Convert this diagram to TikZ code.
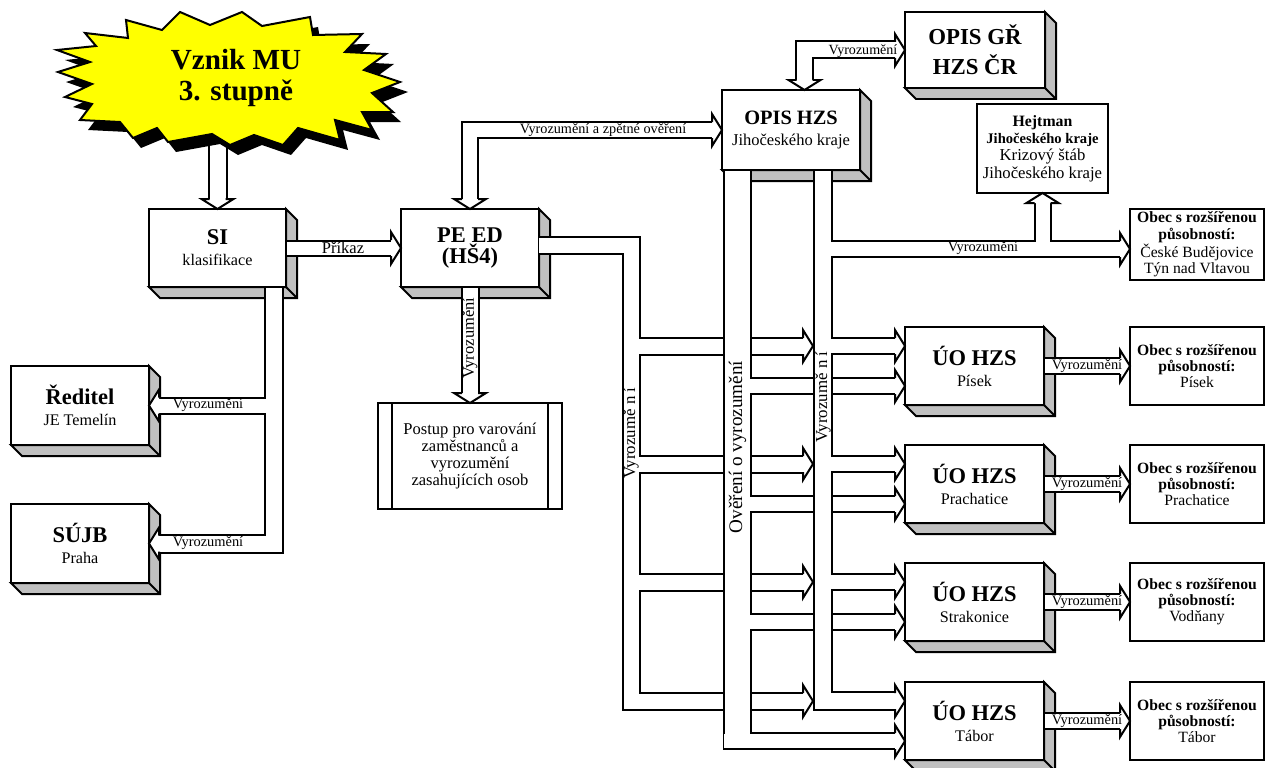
\documentclass[tikz,border=0pt]{standalone}
\usepackage{fontspec}
\setmainfont{Liberation Serif}
\usetikzlibrary{calc}

\definecolor{sidegrey}{RGB}{192,192,192}
\definecolor{burst}{RGB}{255,255,0}

\newcommand{\titel}[1]{{\fontsize{12.8}{12}\selectfont\bfseries #1}}
\newcommand{\obec}[1]{{\bfseries Obec s rozšířenou}\\{\bfseries působností:}\\#1}
% grey depth of a box
\newcommand{\extrude}[1]{%
  \filldraw[side] (#1.north east) -- ++(11,11) -- ($(#1.south east)+(11,11)$)
    -- ($(#1.south west)+(11,11)$) -- (#1.south west) -- (#1.south east) -- cycle;
  \draw[side] (#1.south east) -- ++(11,11);}
% arrow heads of the hollow arrows
\newcommand{\tipR}[1]{\filldraw[tip] (#1) ++(-10,-8) -- ++(0,-8) -- (#1) -- ++(-10,16) -- ++(0,-8);}
\newcommand{\tipL}[1]{\filldraw[tip] (#1) ++(10,-8) -- ++(0,-8) -- (#1) -- ++(10,16) -- ++(0,-8);}
\newcommand{\tipD}[1]{\filldraw[tip] (#1) ++(-8,-10) -- ++(-8,0) -- (#1) -- ++(16,-10) -- ++(-8,0);}
\newcommand{\tipU}[1]{\filldraw[tip] (#1) ++(-8,10) -- ++(-8,0) -- (#1) -- ++(16,10) -- ++(-8,0);}
\newcommand{\tube}[2]{\draw[pipe=#1] #2; \draw[core=#1] #2;}
\newcommand{\starpath}{(57,50) -- (96,46) -- (85,33) -- (128,38) -- (126,20) -- (162,30)
  -- (180,12) -- (210,25) -- (242,12) -- (262,26) -- (310,17) -- (313,35) -- (362,34)
  -- (345,52) -- (386,54) -- (364,70) -- (400,82) -- (372,93) -- (393,112) -- (362,112)
  -- (372,130) -- (335,120) -- (340,140) -- (298,128) -- (283,145) -- (254,135)
  -- (230,145) -- (212,134) -- (168,142) -- (157,128) -- (133,138) -- (120,122)
  -- (80,120) -- (92,104) -- (65,97) -- (92,84) -- (58,72) -- (90,62) -- cycle}

\begin{document}
\begin{tikzpicture}[x=0.02cm, y=-0.02cm,
    every node/.style={font=\fontsize{9.2}{12}\selectfont},
    face/.style 2 args={draw, fill=white, line width=0.04cm, inner sep=0pt,
      outer sep=0pt, align=center, minimum width=#1*0.02cm, minimum height=#2*0.02cm},
    side/.style={fill=sidegrey, draw=black, line width=0.04cm},
    pipe/.style={draw=black, line width=(#1+2)*0.02cm},
    core/.style={draw=white, line width=(#1-2)*0.02cm, shorten <=0.02cm},
    tip/.style={fill=white, draw=black, line width=0.04cm},
    tag/.style={inner sep=0pt, font=\fontsize{8.2}{9}\selectfont}]

\useasboundingbox (0,0) rectangle (1266,767);

% boxes
\node[face={137}{78}] (si) at (217.5,248) {\titel{SI}\\klasifikace};
\extrude{si}
\node[face={138}{78}] (peed) at (470,248) {\titel{PE ED}\\\titel{(HŠ4)}};
\extrude{peed}
\node[face={138}{80}, font=\fontsize{9.4}{11.5}\selectfont] (opishzs) at (791,130)
  {{\fontsize{11.6}{12}\selectfont\bfseries OPIS HZS}\\Jihočeského kraje};
\extrude{opishzs}
\node[face={140}{76}, font=\fontsize{13}{17}\selectfont\bfseries] (opisgr) at (975,50) {OPIS GŘ\\HZS ČR};
\extrude{opisgr}
\node[face={138}{79}] (reditel) at (80,405.5) {\titel{Ředitel}\\JE Temelín};
\extrude{reditel}
\node[face={138}{79}] (sujb) at (80,543.5) {\titel{SÚJB}\\Praha};
\extrude{sujb}
\node[face={131}{89}, font=\fontsize{9.5}{9.9}\selectfont] (hejtman) at (1042.5,148.5)
  {{\fontsize{9}{9.9}\selectfont\bfseries Hejtman}\\{\fontsize{8.3}{9.9}\selectfont\bfseries Jihočeského kraje}\\Krizový štáb\\Jihočeského kraje};
\node[face={134}{71}, font=\fontsize{8.9}{9.2}\selectfont] (obeccb) at (1197,244.5)
  {\obec{České Budějovice\\Týn nad Vltavou}};
\node[face={184}{106}, font=\fontsize{9.4}{9.7}\selectfont] (postup) at (470,456)
  {Postup pro varování\\zaměstnanců a\\vyrozumění\\zasahujících osob};
\draw[line width=0.04cm] ([xshift=0.28cm]postup.north west) -- ([xshift=0.28cm]postup.south west)
  ([xshift=-0.28cm]postup.north east) -- ([xshift=-0.28cm]postup.south east);

\foreach \n/\c/\town/\place in {pisek/366/Písek/Písek, prach/484/Prachatice/Prachatice,
    strak/602/Strakonice/Vodňany, tabor/721/Tábor/Tábor} {
  \node[face={139}{78}] (uo\n) at (974.5,\c) {\titel{ÚO HZS}\\\town};
  \extrude{uo\n}
  \node[face={134}{78}, font=\fontsize{8.9}{9.2}\selectfont] (ob\n) at (1197,\c) {\obec{\place}};
  \coordinate (a\n) at ($(uo\n.west)+(0,-20)$);
  \coordinate (b\n) at ($(uo\n.west)+(0,20)$);
}

\coordinate (vznik) at (219,80);
\coordinate (sibus) at (274,0);
\coordinate (pebus) at (631,0);
\coordinate (ovbus) at (737.5,0);
\coordinate (vybus) at (823,0);
\coordinate (vyedge) at (813,0);
\coordinate (cbin) at ($(obeccb.west)+(0,4.5)$);
\foreach \n in {pisek,prach,strak,tabor} {\coordinate (p\n) at (vyedge |- a\n);}

% star -> SI, SI -> PE ED
\tube{18}{(vznik -| si.north) -- ($(si.north)+(0,-10)$)}
\tipD{si.north}
\tube{15}{(si.east) -- ($(peed.west)+(-10,0)$)}
\tipR{peed.west}

% SI -> Reditel, SUJB
\draw[pipe=18] (si.south -| sibus) |- ($(sujb.east)+(10,0)$);
\draw[pipe=16] (sibus |- reditel.east) -- ($(reditel.east)+(10,0)$);
\draw[core=18] (si.south -| sibus) |- ($(sujb.east)+(10,0)$);
\draw[core=16] (sibus |- reditel.east) -- ($(reditel.east)+(10,0)$);
\tipL{reditel.east} \tipL{sujb.east}

% PE ED -> Postup
\tube{17}{(peed.south) -- ($(postup.north)+(0,-10)$)}
\tipD{postup.north}

% PE ED <-> OPIS HZS <-> OPIS GR
\draw[pipe=16] ($(peed.north)+(0,-10)$) |- ($(opishzs.west)+(-10,0)$);
\draw[core=16, shorten <=0pt] ($(peed.north)+(0,-10)$) |- ($(opishzs.west)+(-10,0)$);
\tipD{peed.north} \tipR{opishzs.west}
\draw[pipe=17] ($(opishzs.north)+(13.5,-10)$) |- ($(opisgr.west)+(-10,0)$);
\draw[core=17, shorten <=0pt] ($(opishzs.north)+(13.5,-10)$) |- ($(opisgr.west)+(-10,0)$);
\tipD{$(opishzs.north)+(13.5,0)$} \tipR{opisgr.west}

% PE ED bus
\draw[pipe=17] ($(peed.east)+(0,-3)$) -| (pebus |- ptabor) -- ($(ptabor)+(-10,0)$)
  \foreach \n in {pisek,prach,strak} {(pebus |- p\n) -- ($(p\n)+(-10,0)$)};
\draw[core=17] ($(peed.east)+(0,-3)$) -| (pebus |- ptabor) -- ($(ptabor)+(-10,0)$)
  \foreach \n in {pisek,prach,strak} {(pebus |- p\n) -- ($(p\n)+(-10,0)$)};
\foreach \n in {pisek,prach,strak,tabor} {\tipR{p\n}}

% OPIS HZS overeni bus
\draw[pipe=27] (ovbus |- opishzs.south) -- ($(ovbus |- btabor)+(0,9)$);
\draw[pipe=16] ($(ovbus |- btabor)+(-14.5,0)$) -- ($(btabor)+(-10,0)$)
  \foreach \n in {pisek,prach,strak} {(ovbus |- b\n) -- ($(b\n)+(-10,0)$)};
\draw[core=27] (ovbus |- opishzs.south) -- ($(ovbus |- btabor)+(0,7)$);
\draw[core=16] ($(ovbus |- btabor)+(-13.5,0)$) -- ($(btabor)+(-10,0)$)
  \foreach \n in {pisek,prach,strak} {(ovbus |- b\n) -- ($(b\n)+(-10,0)$)};
\foreach \n in {pisek,prach,strak,tabor} {\tipR{b\n}}

% OPIS HZS vyrozumeni bus
\draw[pipe=18] (vybus |- opishzs.south) |- ($(atabor)+(-10,0)$);
\draw[pipe=16] \foreach \n in {pisek,prach,strak} {(vybus |- a\n) -- ($(a\n)+(-10,0)$)}
  (vybus |- cbin) -- ($(cbin)+(-10,0)$)
  (hejtman.south |- cbin) -- ($(hejtman.south)+(0,10)$);
\draw[core=18] (vybus |- opishzs.south) |- ($(atabor)+(-10,0)$);
\draw[core=16] \foreach \n in {pisek,prach,strak} {(vybus |- a\n) -- ($(a\n)+(-10,0)$)}
  (vybus |- cbin) -- ($(cbin)+(-10,0)$)
  (hejtman.south |- cbin) -- ($(hejtman.south)+(0,10)$);
\foreach \n in {pisek,prach,strak,tabor} {\tipR{a\n}}
\tipR{cbin} \tipU{hejtman.south}

% UO HZS -> obec
\foreach \n in {pisek,prach,strak,tabor} {
  \tube{16}{(uo\n.east) -- ($(ob\n.west)+(-10,0)$)}
  \tipR{ob\n.west}
  \node[tag] (l\n) at ($(uo\n.east)!0.5!(ob\n.west)$) {Vyrozumění};
}

% labels
\node[tag, font=\fontsize{9.4}{10}\selectfont] (lprikaz) at (343,248) {Příkaz};
\node[tag, font=\fontsize{8.1}{9}\selectfont] (lzpet) at (603,130) {Vyrozumění a zpětné ověření};
\node[tag, font=\fontsize{8}{9}\selectfont] (lgr) at (863,51) {Vyrozumění};
\node[tag] (lcb) at (983,248) {Vyrozumění};
\node[tag] (lred) at (208,405) {Vyrozumění};
\node[tag] (lsujb) at (208,543) {Vyrozumění};
\node[tag, rotate=90, font=\fontsize{9.4}{10}\selectfont] (lpost) at (470,338) {Vyrozumění};
\node[tag, rotate=90, font=\fontsize{9.6}{10}\selectfont] (lpebus) at (631,433) {Vyrozumě n í};
\node[tag, rotate=90, font=\fontsize{9.6}{10}\selectfont] (lvybus) at (823,397) {Vyrozumě n í};
\node[tag, rotate=90, font=\fontsize{10.9}{11}\selectfont] (lover) at (737.5,447) {Ověření o vyrozumění};

% star
\fill[black, shift={(8,10)}] \starpath;
\filldraw[fill=burst, line width=0.04cm] \starpath;
\node[font=\fontsize{16.6}{17.6}\selectfont\bfseries, align=center] (vzniktext) at (236,78)
  {Vznik MU\\3. stupně};
\end{tikzpicture}
\end{document}
